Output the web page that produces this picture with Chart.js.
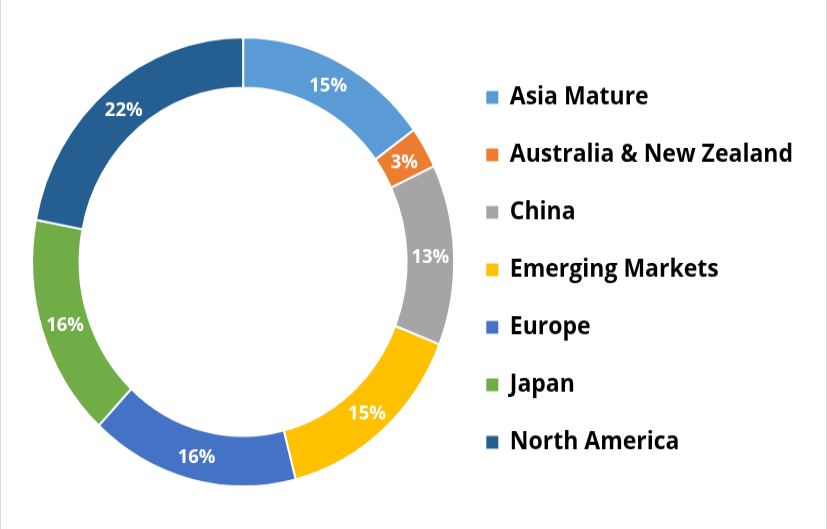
<!DOCTYPE html>
<html>
<head>
<meta charset="utf-8">
<script src="https://cdn.jsdelivr.net/npm/chart.js@4.4.1/dist/chart.umd.min.js"></script>
<style>
  html, body { margin: 0; padding: 0; background: #fff; overflow: hidden; }
  #wrap { position: relative; width: 827px; height: 529px; }
  #wrap canvas { display: block; transform: scaleY(1.0644); transform-origin: 0 0; }
  .edge { position: absolute; top: 0; width: 1px; height: 529px; background: #d9d9d9; }
</style>
</head>
<body>
<div id="wrap">
  <canvas id="regionChart" width="827" height="497"></canvas>
  <div class="edge" style="left:0"></div>
  <div class="edge" style="right:0"></div>
</div>
<script>
// share by region, in percent
const regions = ['Asia Mature', 'Australia & New Zealand', 'China', 'Emerging Markets', 'Europe', 'Japan', 'North America'];
const shares = [15, 3, 13, 15, 16, 16, 22];
const colors = ['#5B9BD5', '#ED7D31', '#A5A5A5', '#FFC000', '#4472C4', '#70AD47', '#255E91'];

// white percent labels in the middle of the ring
const sliceLabels = {
  id: 'sliceLabels',
  afterDatasetsDraw(chart) {
    const ctx = chart.ctx;
    const meta = chart.getDatasetMeta(0);
    ctx.save();
    ctx.font = 'bold 18.5px "Open Sans"';
    ctx.fillStyle = '#fff';
    ctx.textAlign = 'center';
    ctx.textBaseline = 'middle';
    meta.data.forEach((arc, i) => {
      const p = arc.getCenterPoint();
      ctx.fillText(shares[i] + '%', p.x, p.y + 2);
    });
    ctx.restore();
  }
};

const ctx = document.getElementById('regionChart').getContext('2d');
new Chart(ctx, {
  type: 'doughnut',
  data: {
    labels: regions,
    datasets: [{
      data: shares,
      backgroundColor: colors,
      borderColor: '#fff',
      borderWidth: 2,
      radius: 211,
      cutout: '77.5%'
    }]
  },
  options: {
    responsive: false,
    animation: false,
    layout: { padding: { top: 34, bottom: 39, left: 31, right: 24 } },
    plugins: {
      tooltip: { enabled: false },
      legend: {
        position: 'right',
        align: 'end',
        labels: {
          boxWidth: 12,
          boxHeight: 12,
          padding: 31,
          color: '#000',
          font: { family: 'Open Sans', size: 23, weight: 'bold' },
          generateLabels: (chart) => regions.map((r, i) => ({
            text: r,
            fillStyle: colors[i],
            strokeStyle: colors[i],
            lineWidth: 0,
            hidden: false,
            index: i
          }))
        }
      }
    }
  },
  plugins: [sliceLabels]
});
</script>
</body>
</html>
